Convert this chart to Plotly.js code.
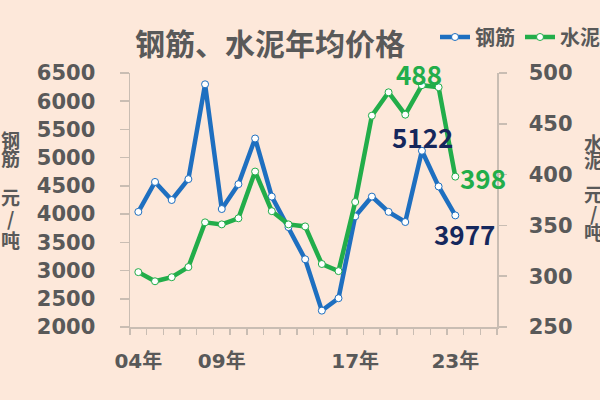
<!DOCTYPE html>
<html>
<head>
<meta charset="utf-8">
<script src="https://cdn.plot.ly/plotly-3.0.1.min.js"></script>
<style>
html,body{margin:0;padding:0;background:#fde8da;overflow:hidden;}
#chart{width:600px;height:400px;}
</style>
</head>
<body>
<div id="chart"></div>
<script>
// ---- data ----
const years = [2004,2005,2006,2007,2008,2009,2010,2011,2012,2013,2014,2015,2016,2017,2018,2019,2020,2021,2022,2023];
const rebarPrice = [4040,4570,4250,4620,6300,4090,4530,5340,4310,3770,3200,2290,2510,3960,4310,4040,3860,5122,4490,3977];
const cementPrice = [304,295,299,309,353,351,357,403,364,351,349,312,305,373,458,481,459,488,486,398];
const tickYears = [2004,2009,2017,2023];
const tickLabels = ['04年','09年','17年','23年'];
const seriesNames = ['钢筋','水泥'];
const chartTitle = '钢筋、水泥年均价格';
const leftTitleChars = ['钢','筋','','元','/','吨'];
const rightTitleChars = ['水','泥','','元','/','吨'];

// ---- style ----
const BG = '#fde8da';
const BLUE = '#1e6fc0';
const GREEN = '#22ad4a';
const NAVY = '#15275c';
const GRAY = '#595959';
const AXIS = '#c9bdb3';
const NUM_FONT = "'DejaVu Sans', 'Noto Sans CJK SC', sans-serif";
const CJK_FONT = "'Noto Sans CJK SC', 'DejaVu Sans', sans-serif";

const M = {l:130, r:103, t:73, b:73, autoexpand:false};
const PW = 600 - M.l - M.r, PH = 400 - M.t - M.b;
const px2x = px => (px - M.l) / PW;
const py2y = py => (400 - M.b - py) / PH;

const traces = [
  {
    x: years, y: rebarPrice, name: seriesNames[0], yaxis: 'y',
    type: 'scatter', mode: 'lines+markers',
    line: {color: BLUE, width: 4.5},
    marker: {symbol: 'circle', size: 7, color: '#ffffff', line: {color: BLUE, width: 1}}
  },
  {
    x: years, y: cementPrice, name: seriesNames[1], yaxis: 'y2',
    type: 'scatter', mode: 'lines+markers',
    line: {color: GREEN, width: 4.5},
    marker: {symbol: 'circle', size: 7, color: '#ffffff', line: {color: GREEN, width: 1}}
  }
];

const iMax = cementPrice.indexOf(Math.max(...cementPrice));
const iLast = years.length - 1;
const iPeakR = rebarPrice.indexOf(Math.max(...rebarPrice.slice(15)), 15);

const annotations = [
  {x: years[iMax], y: cementPrice[iMax], yref:'y2', text: String(cementPrice[iMax]),
   font:{family: CJK_FONT, size: 26, color: GREEN, weight:'bold'}, xshift:-3, yshift:12},
  {x: years[iLast], y: cementPrice[iLast], yref:'y2', text: String(cementPrice[iLast]),
   font:{family: CJK_FONT, size: 26, color: GREEN, weight:'bold'}, xshift:28, yshift:-1},
  {x: years[iPeakR], y: rebarPrice[iPeakR], yref:'y', text: String(rebarPrice[iPeakR]),
   font:{family: CJK_FONT, size: 26, color: NAVY, weight:'bold'}, xshift:1, yshift:14},
  {x: years[iLast], y: rebarPrice[iLast], yref:'y', text: String(rebarPrice[iLast]),
   font:{family: CJK_FONT, size: 26, color: NAVY, weight:'bold'}, xshift:9, yshift:-18}
].map(a => Object.assign({xref:'x', showarrow:false, xanchor:'center', yanchor:'middle'}, a));

const leftY = [139, 157.5, 0, 196.5, 217.5, 239];
const rightY = [142.5, 159.5, 0, 193.5, 212.5, 231];
leftTitleChars.forEach((c, i) => {
  if (!c) return;
  annotations.push({xref:'paper', yref:'paper', x: px2x(10), y: py2y(leftY[i]), text: c, showarrow:false,
    xanchor:'center', yanchor:'middle', font:{family: CJK_FONT, size: 19, color: GRAY, weight:'bold'}});
});
rightTitleChars.forEach((c, i) => {
  if (!c) return;
  annotations.push({xref:'paper', yref:'paper', x: px2x(593), y: py2y(rightY[i]), text: c, showarrow:false,
    xanchor:'center', yanchor:'middle', font:{family: CJK_FONT, size: 19, color: GRAY, weight:'bold'}});
});

const layout = {
  width: 600, height: 400,
  margin: M,
  paper_bgcolor: BG, plot_bgcolor: BG,
  title: {text: chartTitle, x: 270/600, xref:'container', xanchor:'center', y: 1 - 44/400, yref:'container', yanchor:'middle',
    font: {family: CJK_FONT, size: 30, color: GRAY, weight:'bold'}},
  showlegend: true,
  legend: {orientation:'h', x: px2x(435), xanchor:'left', y: py2y(37), yanchor:'middle',
    bgcolor:'rgba(0,0,0,0)', font:{family: CJK_FONT, size: 20, color: GRAY, weight:'bold'},
    itemwidth: 30, traceorder:'normal'},
  xaxis: {
    range: [2003.5, 2025.5], showgrid:false, zeroline:false,
    showline:true, linecolor: AXIS, linewidth: 1.5,
    tickmode:'array', tickvals: tickYears, ticktext: tickLabels,
    ticks:'', ticklabelstandoff: 15,
    tickfont:{family: NUM_FONT, size: 20, color: GRAY, weight:'bold'},
    minor: {ticks:'outside', tick0: 2003.5, dtick: 1, ticklen: 6, tickcolor: AXIS, tickwidth: 1.5, showgrid:false}
  },
  yaxis: {
    range: [2000, 6500], dtick: 500, tick0: 2000, showgrid:false, zeroline:false,
    showline:true, linecolor: AXIS, linewidth: 1.5,
    ticks:'outside', ticklen: 9, tickcolor: AXIS, tickwidth: 1.5, ticklabelstandoff: 20,
    tickfont:{family: NUM_FONT, size: 21, color: GRAY, weight:'bold'}
  },
  yaxis2: {
    range: [250, 500], dtick: 50, tick0: 250, overlaying:'y', side:'right', showgrid:false, zeroline:false,
    showline:true, linecolor: AXIS, linewidth: 1.5,
    ticks:'outside', ticklen: 8, tickcolor: AXIS, tickwidth: 1.5, ticklabelstandoff: 18,
    tickfont:{family: NUM_FONT, size: 21, color: GRAY, weight:'bold'}
  },
  annotations: annotations
};

Plotly.newPlot('chart', traces, layout, {displayModeBar:false, staticPlot:true});
</script>
</body>
</html>
